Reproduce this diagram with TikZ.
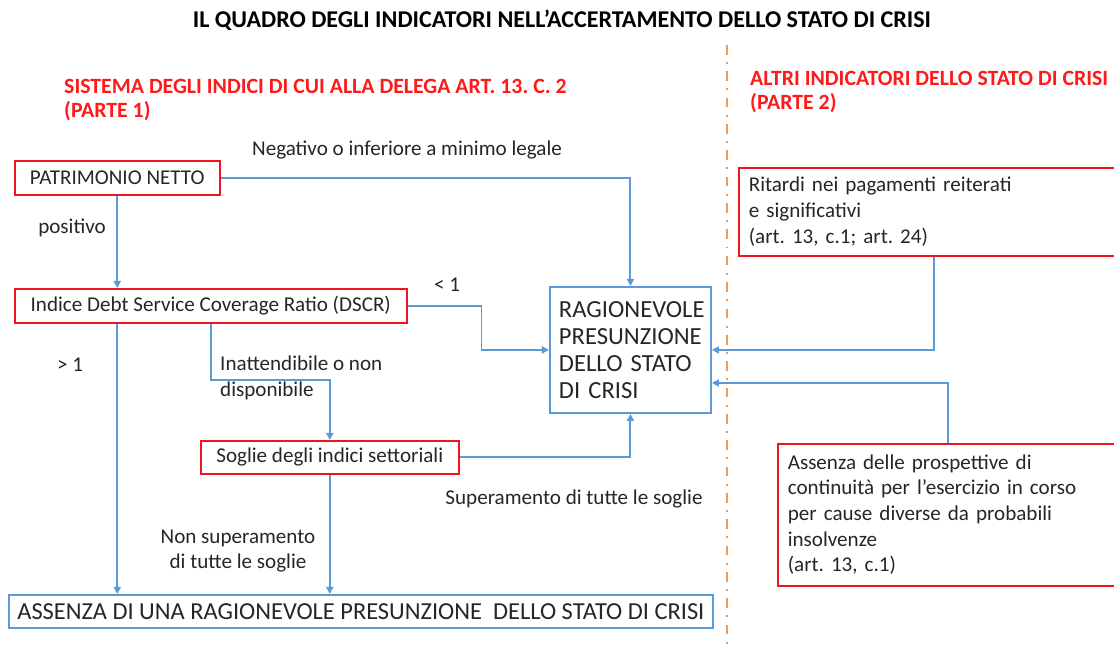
\documentclass[tikz,border=0pt]{standalone}
\usepackage{fontspec}
\setmainfont{Carlito}
\usetikzlibrary{arrows.meta,positioning}
\frenchspacing

\definecolor{flowblue}{HTML}{5B9BD5}
\definecolor{boxred}{HTML}{F0141E}
\definecolor{headred}{HTML}{FF1A1A}
\definecolor{sepline}{HTML}{F09A55}
\definecolor{txt}{HTML}{262626}

\begin{document}
\begin{tikzpicture}[
    x=0.02cm, y=-0.02cm,
    every node/.style={text=txt, font=\fontsize{12}{14.6}\selectfont},
    redbox/.style={rectangle, draw=boxred, line width=0.9pt, anchor=north west, inner sep=0pt},
    bluebox/.style={rectangle, draw=flowblue, line width=1.1pt, anchor=north west, inner sep=0pt},
    header/.style={anchor=west, align=left, text=headred, font=\bfseries\fontsize{12.4}{14}\selectfont},
    flow/.style={draw=flowblue, line width=1.1pt, -{Triangle[length=4pt,width=4pt]}},
]
\useasboundingbox (0,0) rectangle (1114,651);

% Title and headers
\node[font=\bfseries\fontsize{13.7}{15}\selectfont, text=black] (title) at (562,20) {IL QUADRO DEGLI INDICATORI NELL’ACCERTAMENTO DELLO STATO DI CRISI};
\node[header] (head1) at (58,100) {SISTEMA DEGLI INDICI DI CUI ALLA DELEGA ART. 13. C. 2\\(PARTE 1)};
\node[header] (head2) at (744,92) {ALTRI INDICATORI DELLO STATO DI CRISI\\(PARTE 2)};

% Separator
\coordinate (septop) at (727,45);
\coordinate (sepbot) at (727,651);
\draw[sepline, line width=1.2pt, dash pattern=on 5.5pt off 4.2pt on 1.1pt off 4.2pt] (septop) -- (sepbot);

% Parte 1
\node[redbox, minimum width=4.1cm, minimum height=0.68cm] (pn) at (14,160) {PATRIMONIO NETTO};
\node[redbox, minimum width=7.84cm, minimum height=0.68cm] (dscr) at (14,288) {Indice Debt Service Coverage Ratio (DSCR)};
\node[redbox, minimum width=5.16cm, minimum height=0.66cm] (sog) at (200,440) {Soglie degli indici settoriali};
\node[bluebox, text width=2.86cm, inner xsep=0.18cm, align=left, minimum height=2.52cm,
      font=\fontsize{14}{15.4}\selectfont] (rp) at (549,286) {RAGIONEVOLE\\PRESUNZIONE\\DELLO STATO\\DI CRISI};
\node[bluebox, minimum width=14.08cm, minimum height=0.66cm,
      font=\fontsize{13.9}{16}\selectfont] (ass) at (8,594) {ASSENZA DI UNA RAGIONEVOLE PRESUNZIONE \ DELLO STATO DI CRISI};

% Parte 2
\node[redbox, text width=7.4cm, inner xsep=0.2cm, align=left, minimum height=1.76cm] (rit) at (738,167) {Ritardi nei pagamenti reiterati\\e significativi\\(art. 13, c.1; art. 24)};
\node[redbox, text width=6.42cm, inner xsep=0.2cm, align=left, minimum height=2.84cm] (apc) at (777,443) {Assenza delle prospettive di\\continuità per l’esercizio in corso\\per cause diverse da probabili\\insolvenze\\(art. 13, c.1)};

% Arrows
\draw[flow] (pn.east) -| (rp.north);
\draw[flow] (pn.south) -- (pn.south |- dscr.north);
\draw[flow] (dscr.east) -- ++(74,0) |- (rp.west);
\draw[flow] (dscr.south -| pn.south) -- (pn.south |- ass.north);
\draw[flow] (dscr.south) -- ++(0,56) -| (sog.north);
\draw[flow] (sog.east) -| (rp.south);
\draw[flow] (sog.south) -- (sog.south |- ass.north);
\draw[flow] (rit.south) |- (rp.east);
\draw[flow] (apc.north) |- ([yshift=-0.66cm]rp.east);

% Labels
\node (lneg) at (407,150) {Negativo o inferiore a minimo legale};
\node (lpos) at (72,228) {positivo};
\node (lless) at (447,285) {< 1};
\node (lmore) at (70,365) {> 1};
\node[anchor=west, align=left] (lina) at (214,378) {Inattendibile o non\\disponibile};
\node (lsup) at (574,499) {Superamento di tutte le soglie};
\node[align=center] (lnon) at (238,551) {Non superamento\\di tutte le soglie};

\end{tikzpicture}
\end{document}
